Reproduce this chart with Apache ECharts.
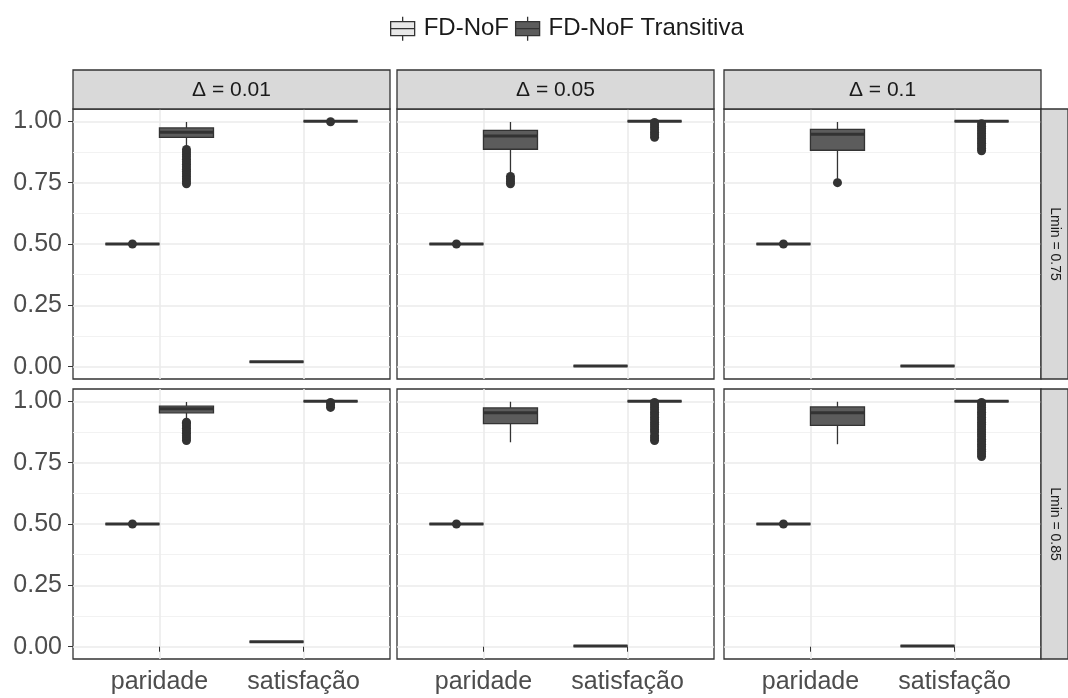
<!DOCTYPE html>
<html>
<head>
<meta charset="utf-8">
<script src="https://cdn.jsdelivr.net/npm/echarts@6/dist/echarts.min.js"></script>
<style>html,body{margin:0;padding:0;background:#fff}#c{width:1068px;height:698px}</style>
</head>
<body>
<div id="c"></div>
<script>
// ---------- DATA ----------
const categories = ['paridade', 'satisfação'];
const seriesNames = ['FD-NoF', 'FD-NoF Transitiva'];
const deltaLabels = ['\u0394 = 0.01', '\u0394 = 0.05', '\u0394 = 0.1'];
const lminLabels = ['Lmin = 0.75', 'Lmin = 0.85'];
const yTicks = [0, 0.25, 0.5, 0.75, 1];
const yMinorTicks = [0.125, 0.375, 0.625, 0.875];

// Box stats [lowWhisker, q1, median, q3, highWhisker]; panels row-major
// (Lmin 0.75: Δ0.01, Δ0.05, Δ0.1; Lmin 0.85: Δ0.01, Δ0.05, Δ0.1); per category [paridade, satisfação]
const fdnofBoxes = [
  [[0.5, 0.5, 0.5, 0.5, 0.5], [0.02, 0.02, 0.02, 0.02, 0.02]],
  [[0.5, 0.5, 0.5, 0.5, 0.5], [0.003, 0.003, 0.003, 0.003, 0.003]],
  [[0.5, 0.5, 0.5, 0.5, 0.5], [0.003, 0.003, 0.003, 0.003, 0.003]],
  [[0.5, 0.5, 0.5, 0.5, 0.5], [0.02, 0.02, 0.02, 0.02, 0.02]],
  [[0.5, 0.5, 0.5, 0.5, 0.5], [0.003, 0.003, 0.003, 0.003, 0.003]],
  [[0.5, 0.5, 0.5, 0.5, 0.5], [0.003, 0.003, 0.003, 0.003, 0.003]]
];
const transBoxes = [
  [[0.89, 0.934, 0.955, 0.973, 0.997], [1, 1, 1, 1, 1]],
  [[0.785, 0.886, 0.94, 0.963, 0.997], [1, 1, 1, 1, 1]],
  [[0.765, 0.882, 0.947, 0.967, 0.997], [1, 1, 1, 1, 1]],
  [[0.925, 0.953, 0.97, 0.98, 0.997], [1, 1, 1, 1, 1]],
  [[0.833, 0.909, 0.953, 0.973, 0.998], [1, 1, 1, 1, 1]],
  [[0.825, 0.902, 0.953, 0.977, 0.998], [1, 1, 1, 1, 1]]
];
const fdnofOutliers = [
  [[0.5], []], [[0.5], []], [[0.5], []],
  [[0.5], []], [[0.5], []], [[0.5], []]
];
const transOutliers = [
  [[0.745, 0.755, 0.765, 0.775, 0.785, 0.795, 0.805, 0.815, 0.825, 0.835, 0.845, 0.855, 0.865, 0.875, 0.885], [0.998]],
  [[0.745, 0.755, 0.765, 0.775], [0.935, 0.945, 0.955, 0.965, 0.975, 0.985, 0.995]],
  [[0.75], [0.88, 0.89, 0.9, 0.91, 0.92, 0.93, 0.94, 0.95, 0.96, 0.97, 0.98, 0.99]],
  [[0.84, 0.85, 0.86, 0.87, 0.88, 0.89, 0.9, 0.91, 0.915], [0.975, 0.985, 0.995]],
  [[], [0.84, 0.85, 0.86, 0.875, 0.885, 0.895, 0.905, 0.915, 0.925, 0.935, 0.945, 0.955, 0.965, 0.975, 0.985, 0.995]],
  [[], [0.775, 0.785, 0.795, 0.805, 0.815, 0.825, 0.835, 0.845, 0.855, 0.865, 0.875, 0.885, 0.895, 0.905, 0.915, 0.925, 0.935, 0.945, 0.955, 0.965, 0.975, 0.985, 0.995]]
];

// ---------- LAYOUT / STYLE ----------
const FONT = 'Liberation Sans';
const fills = ['#E8E8E8', '#5C5C5C'];
const lineCol = '#333333';
const panelLefts = [73, 397, 724];
const panelW = 317;
const panelTops = [109, 389];
const panelH = 270;
const stripTop = 70;
const rightStripW = 27;
const dodge = 0.1875;
const boxW = 0.375;

const chart = echarts.init(document.getElementById('c'));

const grids = [], xAxes = [], yAxes = [], series = [], graphics = [];

function renderBox(params, api) {
  const x = api.value(0);
  const lo = api.coord([x, api.value(1)]);
  const q1 = api.coord([x, api.value(2)]);
  const md = api.coord([x, api.value(3)]);
  const q3 = api.coord([x, api.value(4)]);
  const hi = api.coord([x, api.value(5)]);
  const w = api.size([boxW, 0])[0];
  const fill = api.visual('color');
  const cx = lo[0];
  return {
    type: 'group',
    children: [
      { type: 'line', shape: { x1: cx, y1: hi[1], x2: cx, y2: q3[1] }, style: { stroke: lineCol, lineWidth: 1.3 } },
      { type: 'line', shape: { x1: cx, y1: q1[1], x2: cx, y2: lo[1] }, style: { stroke: lineCol, lineWidth: 1.3 } },
      { type: 'rect', shape: { x: cx - w / 2, y: q3[1], width: w, height: Math.max(q1[1] - q3[1], 0) },
        style: { fill: fill, stroke: lineCol, lineWidth: 1.3 } },
      { type: 'line', shape: { x1: cx - w / 2, y1: md[1], x2: cx + w / 2, y2: md[1] }, style: { stroke: lineCol, lineWidth: 3 } }
    ]
  };
}

for (let r = 0; r < 2; r++) {
  for (let c = 0; c < 3; c++) {
    const p = r * 3 + c;
    grids.push({ left: panelLefts[c], top: panelTops[r], width: panelW, height: panelH,
      show: true, borderColor: lineCol, borderWidth: 1.3, backgroundColor: '#fff', containLabel: false });
    xAxes.push({
      type: 'value', gridIndex: p, min: 0.4, max: 2.6,
      axisLine: { show: false },
      axisTick: { show: r === 1, length: 5, lineStyle: { color: lineCol }, customValues: [1, 2] },
      axisLabel: { show: r === 1, customValues: [1, 2], margin: 11, color: '#4D4D4D', fontSize: 25, fontFamily: FONT,
        formatter: v => categories[Math.round(v) - 1] },
      splitLine: { show: true, lineStyle: { color: '#EBEBEB', width: 1.6 } }
    });
    yAxes.push({
      type: 'value', gridIndex: p, min: -0.05, max: 1.05,
      axisLine: { show: false },
      axisTick: { show: c === 0, length: 5, lineStyle: { color: lineCol }, customValues: yTicks },
      axisLabel: { show: c === 0, customValues: yTicks, margin: 11, color: '#4D4D4D', fontSize: 25, fontFamily: FONT,
        formatter: v => v.toFixed(2) },
      splitLine: { show: true, lineStyle: { color: '#EBEBEB', width: 1.6 } }
    });
    yAxes.push({
      type: 'value', gridIndex: p, min: -0.05, max: 1.05, position: 'left',
      axisLine: { show: false },
      axisTick: { show: false, customValues: yMinorTicks },
      axisLabel: { show: false, customValues: yMinorTicks },
      splitLine: { show: true, lineStyle: { color: '#F2F2F2', width: 1 } }
    });
    [fdnofBoxes, transBoxes].forEach((boxes, g) => {
      const off = g === 0 ? -dodge : dodge;
      series.push({
        type: 'custom', name: seriesNames[g], xAxisIndex: p, yAxisIndex: 2 * p,
        itemStyle: { color: fills[g] },
        renderItem: renderBox,
        encode: { x: 0, y: [1, 2, 3, 4, 5] },
        data: boxes[p].map((b, ci) => [ci + 1 + off].concat(b)),
        z: 3
      });
    });
    [fdnofOutliers, transOutliers].forEach((outs, g) => {
      const off = g === 0 ? -dodge : dodge;
      const pts = [];
      outs[p].forEach((vals, ci) => vals.forEach(v => pts.push([ci + 1 + off, v])));
      series.push({
        type: 'scatter', name: seriesNames[g], xAxisIndex: p, yAxisIndex: 2 * p,
        symbol: 'circle', symbolSize: 9, itemStyle: { color: lineCol, opacity: 1 },
        data: pts, z: 4, silent: true
      });
    });
    // top strip
    if (r === 0) {
      graphics.push({ type: 'rect', shape: { x: panelLefts[c], y: stripTop, width: panelW, height: panelTops[0] - stripTop },
        style: { fill: '#D9D9D9', stroke: lineCol, lineWidth: 1.3 }, z: 10 });
      graphics.push({ type: 'text', x: panelLefts[c] + panelW / 2, y: (stripTop + panelTops[0]) / 2 + 1,
        style: { text: deltaLabels[c], fill: '#1A1A1A', font: '21px "' + FONT + '"', align: 'center', verticalAlign: 'middle' }, z: 11 });
    }
    // right strip
    if (c === 2) {
      const sx = panelLefts[2] + panelW;
      graphics.push({ type: 'rect', shape: { x: sx, y: panelTops[r], width: rightStripW, height: panelH },
        style: { fill: '#D9D9D9', stroke: lineCol, lineWidth: 1.3 }, z: 10 });
      graphics.push({ type: 'text', x: sx + rightStripW / 2, y: panelTops[r] + panelH / 2, rotation: -Math.PI / 2,
        style: { text: lminLabels[r], fill: '#1A1A1A', font: '14px "' + FONT + '"', align: 'center', verticalAlign: 'middle' }, z: 11 });
    }
  }
}

const boxIcon = 'path://M0,5 L24,5 L24,19 L0,19 Z M12,0 L12,5 M12,19 L12,24 M0,12 L24,12';

chart.setOption({
  animation: false,
  backgroundColor: '#fff',
  legend: {
    top: 11, left: 385, itemWidth: 24, itemHeight: 24, itemGap: 6,
    textStyle: { fontSize: 24, fontFamily: FONT, color: '#1A1A1A', padding: [0, 0, 0, 4] },
    data: seriesNames.map((n, g) => ({ name: n, icon: boxIcon,
      itemStyle: { color: fills[g], borderColor: lineCol, borderWidth: 1.3 } })),
    selectedMode: false
  },
  grid: grids,
  xAxis: xAxes,
  yAxis: yAxes,
  series: series,
  graphic: graphics
});
</script>
</body>
</html>
